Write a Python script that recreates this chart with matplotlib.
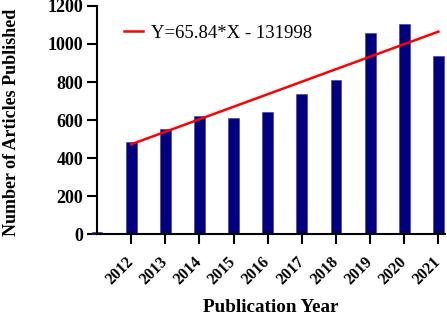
import matplotlib.pyplot as plt
import numpy as np

plt.rcParams['font.family'] = ['Liberation Serif', 'DejaVu Serif']

# articles per year
years = [2011, 2012, 2013, 2014, 2015, 2016, 2017, 2018, 2019, 2020, 2021]
counts = [10, 484, 555, 623, 610, 644, 736, 812, 1059, 1105, 937]

# linear fit Y=65.84*X - 131998, end points
trend_years = [2012, 2021]
trend_values = [472, 1065]
trend_label = "Y=65.84*X - 131998"

tick_years = [2012, 2013, 2014, 2015, 2016, 2017, 2018, 2019, 2020, 2021]

fig = plt.figure(figsize=(4.47, 3.15), dpi=100)
ax = fig.add_axes([0.217, 0.257, 0.779, 0.724])

ax.bar(years, counts, width=0.32, color='#000080', edgecolor='#3a3a90',
       linewidth=0.4, zorder=2, clip_on=False)
ax.plot(trend_years, trend_values, color='#ff0000', lw=1.8, label=trend_label, zorder=3)

ax.set_xlim(2011.0, 2021.2)
ax.set_ylim(0, 1200)
ax.set_yticks(np.arange(0, 1201, 200))
ax.set_xticks(tick_years)
ax.set_xticklabels([str(y) for y in tick_years], rotation=45, ha='right', va='center',
                   rotation_mode='anchor', fontsize=11.5, fontweight='bold')
for lab in ax.get_yticklabels():
    lab.set_fontweight('bold')
    lab.set_fontsize(13)

for s in ['top', 'right']:
    ax.spines[s].set_visible(False)
for s in ['left', 'bottom']:
    ax.spines[s].set_linewidth(1.5)
ax.tick_params(axis='both', direction='out', length=7, width=1.5, color='black')
ax.tick_params(axis='x', pad=11)
ax.tick_params(axis='y', pad=3)

ax.set_ylabel("Number of Articles Published", fontsize=13, fontweight='bold')
ax.yaxis.set_label_coords(-0.222, 0.49)
ax.set_xlabel("Publication Year", fontsize=13.8, fontweight='bold', labelpad=8)

ax.legend(loc='upper left', bbox_to_anchor=(0.046, 0.968), frameon=False,
          handlelength=1.0, handletextpad=0.4, fontsize=13.5, borderaxespad=0.2)

fig.savefig('out.png', dpi=100)
